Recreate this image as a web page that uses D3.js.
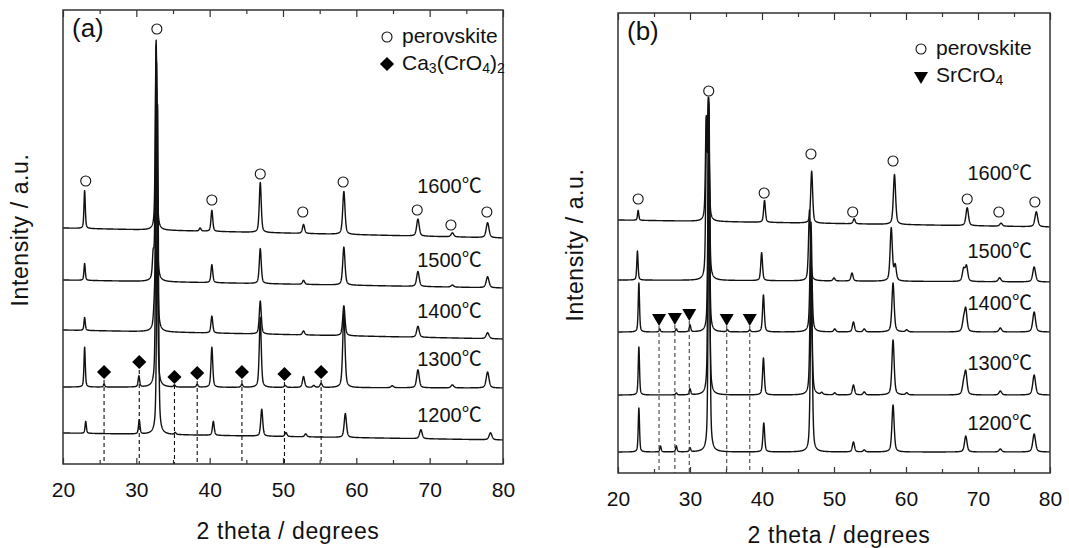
<!DOCTYPE html>
<html>
<head>
<meta charset="utf-8">
<script src="https://cdn.jsdelivr.net/npm/d3@7.9.0/dist/d3.min.js"></script>
<style>
  body { margin: 0; background: #fff; }
  svg text { font-family: "Liberation Sans", Arial, "Noto Sans CJK KR", sans-serif; fill: #111; }
</style>
</head>
<body>
<svg id="chart" width="1069" height="548"></svg>
<script>
// temperatures, top trace first
const temps = ["1600℃", "1500℃", "1400℃", "1300℃", "1200℃"];

// panel (a): baseline [at 20°, at 80°] per trace, in a.u. (offset stacking)
const baseA = [[236, 226], [184, 176], [134, 125], [77, 76], [31, 24]];
// peaks [2theta, height]
const peaksA = [
  [[22.95, 38], [32.7, 190], [38.7, 3], [40.3, 21], [46.9, 50], [52.8, 9], [58.3, 43], [68.4, 17], [73.1, 4], [77.9, 15]],
  [[22.95, 17], [32.3, 22], [32.7, 235], [40.3, 18], [46.9, 35], [52.8, 4], [58.3, 38], [68.4, 15], [73.1, 2], [77.9, 11]],
  [[22.95, 13], [32.45, 15], [32.75, 270], [40.3, 17], [46.9, 33], [52.8, 4], [58.3, 30], [68.4, 11], [77.9, 6]],
  [[22.95, 40], [25.6, 3], [30.35, 11], [32.75, 300], [35.2, 2], [38.3, 3], [40.3, 40], [44.4, 3], [46.9, 70],
   [50.3, 2], [52.8, 11], [54.2, 2], [55.2, 4], [58.3, 75], [64.9, 2], [68.4, 18], [73.1, 3], [77.9, 16]],
  [[23.1, 12], [30.4, 14], [32.9, 330], [35.3, 2], [40.5, 14], [47.1, 27], [50.4, 4], [53.1, 3], [58.5, 24], [68.8, 9], [78.3, 7]]
];
const circlesA = [[23.1, 283], [32.8, 435], [40.3, 264], [46.9, 290], [52.7, 252], [58.2, 282], [68.3, 254], [72.9, 239], [77.8, 252]];
const diamondsA = [[25.6, 92], [30.4, 102], [35.2, 87], [38.3, 91], [44.4, 92], [50.2, 90], [55.2, 92]];
const labelYA = [276, 202, 151, 103, 47];

// panel (b)
const baseB = [[253, 246], [193, 191], [141, 141], [78, 78], [21, 21]];
const peaksB = [
  [[22.8, 10], [32.25, 95], [32.55, 116], [40.35, 22], [46.9, 52], [52.8, 5], [58.4, 50], [68.5, 18], [73.2, 3], [78.1, 15]],
  [[22.7, 29], [32.3, 150], [32.6, 170], [39.95, 28], [46.6, 71], [50.0, 3], [52.5, 8], [57.95, 53], [58.5, 15],
   [68.0, 12], [68.4, 15], [73.0, 4], [77.8, 15]],
  [[22.9, 49], [25.8, 3], [28.1, 3], [30.0, 7], [32.6, 230], [35.2, 2], [38.3, 2], [40.2, 37], [46.8, 110], [50.1, 3],
   [52.7, 10], [54.2, 3], [58.2, 49], [60.1, 2], [68.0, 10], [68.3, 22], [73.1, 4], [77.8, 20]],
  [[22.9, 48], [28.1, 2], [30.0, 6], [32.6, 290], [40.2, 37], [46.8, 140], [48.3, 2], [50.1, 2], [52.7, 10], [54.2, 3],
   [58.2, 55], [60.1, 2], [68.0, 10], [68.3, 22], [73.1, 4], [77.8, 20]],
  [[22.9, 44], [25.9, 6], [28.1, 6], [30.0, 4], [32.65, 340], [40.25, 29], [46.85, 170], [52.7, 10], [54.2, 2],
   [58.2, 47], [68.3, 16], [73.1, 3], [77.8, 18]]
];
const circlesB = [[22.8, 274], [32.6, 382], [40.3, 280], [46.8, 319], [52.6, 261], [58.2, 312], [68.5, 274], [72.9, 261], [77.9, 271]];
const trianglesB = [[25.7, 155], [27.9, 156], [29.9, 160], [35.1, 155], [38.3, 155]];
const labelYB = [298, 220, 168, 108, 48];

const xTicks = [20, 30, 40, 50, 60, 70, 80];

const svg = d3.select("#chart");

// pseudo-Voigt peak profile, width grows a little with angle
function profile(x, peaks) {
  let s = 0;
  for (const [p, h] of peaks) {
    const w = 0.1 + 0.0022 * (p - 20);
    const u = (x - p) / w;
    s += h * (0.5 / (1 + u * u) + 0.5 * Math.exp(-0.693 * u * u));
  }
  return s;
}

function drawPanel(cfg) {
  const { left, top, right, bottom, yMax } = cfg;
  const x = d3.scaleLinear().domain([20, 80]).range([left, right]);
  const y = d3.scaleLinear().domain([0, yMax]).range([bottom, top]);
  const g = svg.append("g");

  const clipId = "clip" + cfg.name;
  svg.append("clipPath").attr("id", clipId)
    .append("rect").attr("x", left).attr("y", top).attr("width", right - left).attr("height", bottom - top);

  // traces
  const grid = d3.range(20, 80.001, 0.02);
  const line = d3.line().x(d => x(d[0])).y(d => y(d[1]));
  cfg.peaks.forEach((pk, i) => {
    const [b0, b1] = cfg.base[i];
    const pts = grid.map(t => [t, b0 + (b1 - b0) * (t - 20) / 60 + profile(t, pk)]);
    g.append("path").attr("d", line(pts)).attr("clip-path", `url(#${clipId})`)
      .attr("fill", "none").attr("stroke", "#111").attr("stroke-width", 1.4).attr("stroke-linejoin", "round");
  });

  // dashed guides for impurity phase
  g.selectAll(".guide").data(cfg.impurity).join("line")
    .attr("x1", d => x(d[0])).attr("x2", d => x(d[0]))
    .attr("y1", d => y(d[1]) + 8).attr("y2", bottom)
    .attr("stroke", cfg.dashColor).attr("stroke-width", 1.1).attr("stroke-dasharray", "4,3");

  // perovskite markers
  g.selectAll(".pv").data(cfg.circles).join("circle")
    .attr("cx", d => x(d[0])).attr("cy", d => y(d[1])).attr("r", 5)
    .attr("fill", "#fff").attr("stroke", "#111").attr("stroke-width", 1.1);

  // impurity markers
  const sym = d3.symbol().type(cfg.symbol).size(cfg.symSize);
  g.selectAll(".imp").data(cfg.impurity).join("path")
    .attr("d", sym)
    .attr("transform", d => `translate(${x(d[0])},${y(d[1])})${cfg.symRotate}`)
    .attr("fill", "#000");

  // temperature labels
  g.selectAll(".tl").data(temps).join("text")
    .attr("x", x(cfg.labelX)).attr("y", (d, i) => y(cfg.labelY[i]))
    .attr("text-anchor", "end").attr("dominant-baseline", "middle")
    .attr("font-size", 20).text(d => d);

  // frame
  g.append("rect").attr("x", left).attr("y", top).attr("width", right - left).attr("height", bottom - top)
    .attr("fill", "none").attr("stroke", "#333").attr("stroke-width", 1.5);

  // ticks on top and bottom, pointing inward
  const minor = d3.range(25, 80, 10);
  const axB = d3.axisBottom(x).tickValues(xTicks).tickSize(-6).tickFormat(d => d).tickPadding(18);
  const bAxis = g.append("g").attr("transform", `translate(0,${bottom})`).call(axB);
  bAxis.select(".domain").remove();
  bAxis.selectAll("text").attr("font-size", 21).attr("fill", "#111");
  bAxis.selectAll("line").attr("stroke", "#333").attr("stroke-width", 1.2);
  const bMin = g.append("g").attr("transform", `translate(0,${bottom})`)
    .call(d3.axisBottom(x).tickValues(minor).tickSize(-4).tickFormat(""));
  bMin.select(".domain").remove();
  bMin.selectAll("line").attr("stroke", "#333").attr("stroke-width", 1.2);
  const tAxis = g.append("g").attr("transform", `translate(0,${top})`)
    .call(d3.axisTop(x).tickValues(xTicks).tickSize(-7).tickFormat(""));
  tAxis.select(".domain").remove();
  tAxis.selectAll("line").attr("stroke", "#333").attr("stroke-width", 1.2);
  const tMin = g.append("g").attr("transform", `translate(0,${top})`)
    .call(d3.axisTop(x).tickValues(minor).tickSize(-4).tickFormat(""));
  tMin.select(".domain").remove();
  tMin.selectAll("line").attr("stroke", "#333").attr("stroke-width", 1.2);

  // axis titles
  g.append("text").attr("x", (left + right) / 2 + 5).attr("y", cfg.xTitleY)
    .attr("text-anchor", "middle").attr("dominant-baseline", "middle")
    .attr("font-size", 23).attr("letter-spacing", 0.6).text("2 theta / degrees");
  g.append("text")
    .attr("transform", `translate(${cfg.yTitleX},${cfg.yTitleY}) rotate(-90)`)
    .attr("text-anchor", "middle").attr("dominant-baseline", "middle")
    .attr("font-size", 23).attr("letter-spacing", 0.6).text("Intensity / a.u.");

  // panel letter
  g.append("text").attr("x", left + 9).attr("y", top + 27)
    .attr("font-size", 26).text(cfg.letter);

  // legend
  const lx = cfg.legendX, ly = cfg.legendY;
  g.append("circle").attr("cx", lx).attr("cy", ly).attr("r", 5)
    .attr("fill", "#fff").attr("stroke", "#111").attr("stroke-width", 1.1);
  g.append("text").attr("x", lx + 15).attr("y", ly).attr("dominant-baseline", "middle")
    .attr("font-size", 21).text("perovskite");
  g.append("path").attr("d", sym)
    .attr("transform", `translate(${lx},${ly + 27})${cfg.symRotate}`).attr("fill", "#000");
  const t = g.append("text").attr("x", lx + 15).attr("y", ly + 27).attr("dominant-baseline", "middle")
    .attr("font-size", 21);
  cfg.legendName.forEach(([s, sub]) => {
    const ts = t.append("tspan").text(s);
    if (sub) ts.attr("font-size", 14).attr("baseline-shift", "-40%");
  });
}

drawPanel({
  name: "a", letter: "(a)", left: 63, top: 10, right: 503, bottom: 464, yMax: 454,
  base: baseA, peaks: peaksA, circles: circlesA, impurity: diamondsA,
  symbol: d3.symbolSquare, symSize: 100, symRotate: " rotate(45)", dashColor: "#111",
  labelX: 77.1, labelY: labelYA, xTitleY: 533, yTitleX: 22, yTitleY: 230,
  legendX: 387, legendY: 37,
  legendName: [["Ca"], ["3", true], ["(CrO"], ["4", true], [")"], ["2", true]]
});

drawPanel({
  name: "b", letter: "(b)", left: 618, top: 13, right: 1050, bottom: 473, yMax: 460,
  base: baseB, peaks: peaksB, circles: circlesB, impurity: trianglesB,
  symbol: d3.symbolTriangle, symSize: 85, symRotate: " rotate(180)", dashColor: "#444",
  labelX: 77.5, labelY: labelYB, xTitleY: 537, yTitleX: 577, yTitleY: 245,
  legendX: 921, legendY: 49,
  legendName: [["SrCrO"], ["4", true]]
});
</script>
</body>
</html>
